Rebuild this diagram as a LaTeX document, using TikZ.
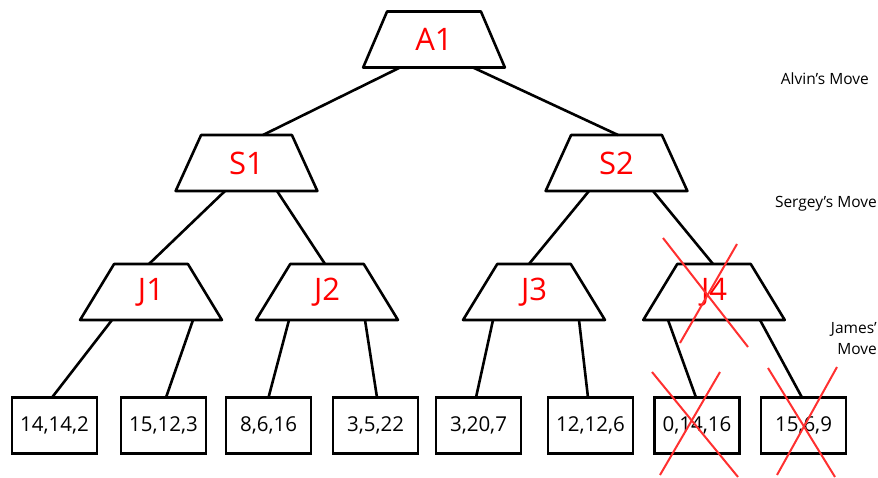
\documentclass[tikz,border=0pt]{standalone}
\usepackage{fontspec}
\setmainfont{Open Sans}
\usetikzlibrary{shapes.geometric}
\definecolor{xred}{HTML}{FF3030}
\begin{document}
\begin{tikzpicture}[x=1pt,y=-1pt,
  trap/.style={trapezium, trapezium stretches=true, minimum width=142pt, minimum height=56pt,
    trapezium left angle=66.8, trapezium right angle=66.8, draw=black, line width=2.6pt,
    inner sep=0pt, outer sep=0pt, text=red, font=\fontsize{31}{31}\selectfont, line join=round},
  leaf/.style={rectangle, draw=black, line width=2.6pt, minimum width=85pt, minimum height=56pt,
    inner sep=0pt, outer sep=0pt, font=\fontsize{20.5}{20.5}\selectfont},
  edge/.style={draw=black, line width=2.6pt},
  cross/.style={draw=xred, line width=2pt},
  side/.style={font=\fontsize{15.5}{21}\selectfont, inner sep=0pt}]
\useasboundingbox (0,0) rectangle (878,478);
% trapezium nodes
\node[trap] (A1) at (434,39.5) {A1};
\node[trap] (S1) at (246.5,163) {S1};
\node[trap] (S2) at (616.5,163) {S2};
\node[trap] (J1) at (151,292) {J1};
\node[trap] (J2) at (327,292) {J2};
\node[trap] (J3) at (534,292) {J3};
\node[trap] (J4) at (714,292) {J4};
% leaves
\node[leaf] (L1) at (54.5,425.5) {14,14,2};
\node[leaf] (L2) at (163.5,425.5) {15,12,3};
\node[leaf] (L3) at (268.5,425.5) {8,6,16};
\node[leaf] (L4) at (375.5,425.5) {3,5,22};
\node[leaf] (L5) at (478.5,425.5) {3,20,7};
\node[leaf] (L6) at (590.5,425.5) {12,12,6};
\node[leaf] (L7) at (697,425.5) {0,14,16};
\node[leaf] (L8) at (803.5,425.5) {15,6,9};
% connectors
\draw[edge] ([xshift=-34pt]A1.south) -- ([xshift=16.5pt]S1.north);
\draw[edge] ([xshift=39pt]A1.south) -- ([xshift=1.5pt]S2.north);
\draw[edge] ([xshift=-21.5pt]S1.south) -- ([xshift=-2pt]J1.north);
\draw[edge] ([xshift=30.5pt]S1.south) -- ([xshift=-2pt]J2.north);
\draw[edge] ([xshift=-27.5pt]S2.south) -- ([xshift=-5pt]J3.north);
\draw[edge] ([xshift=36.5pt]S2.south) -- ([xshift=-1pt]J4.north);
\draw[edge] ([xshift=-39pt]J1.south) -- ([xshift=-2.5pt]L1.north);
\draw[edge] ([xshift=42pt]J1.south) -- ([xshift=2.5pt]L2.north);
\draw[edge] ([xshift=-38pt]J2.south) -- ([xshift=0pt]L3.north);
\draw[edge] ([xshift=38pt]J2.south) -- ([xshift=1.5pt]L4.north);
\draw[edge] ([xshift=-41pt]J3.south) -- ([xshift=-2.5pt]L5.north);
\draw[edge] ([xshift=45pt]J3.south) -- ([xshift=-2.5pt]L6.north);
\draw[edge] ([xshift=-46pt]J4.south) -- ([xshift=-1pt]L7.north);
\draw[edge] ([xshift=46pt]J4.south) -- ([xshift=-1.5pt]L8.north);
% red crosses
\coordinate (x1a) at (663,238); \coordinate (x1b) at (748,347);
\coordinate (x1c) at (737,244); \coordinate (x1d) at (680,343);
\draw[cross] (x1a) -- (x1b);
\draw[cross] (x1c) -- (x1d);
\coordinate (x2a) at (652,372); \coordinate (x2b) at (738,477);
\coordinate (x2c) at (720,372); \coordinate (x2d) at (660,475);
\draw[cross] (x2a) -- (x2b);
\draw[cross] (x2c) -- (x2d);
\coordinate (x3a) at (768,368); \coordinate (x3b) at (835,477);
\coordinate (x3c) at (837,367); \coordinate (x3d) at (777,475);
\draw[cross] (x3a) -- (x3b);
\draw[cross] (x3c) -- (x3d);
% side labels
\node[side, anchor=east] (alv) at (869,79) {Alvin’s Move};
\node[side, anchor=east] (ser) at (877,204) {Sergey’s Move};
\node[side, anchor=east, align=right] (jam) at (877,339) {James’\\Move};
\end{tikzpicture}
\end{document}
